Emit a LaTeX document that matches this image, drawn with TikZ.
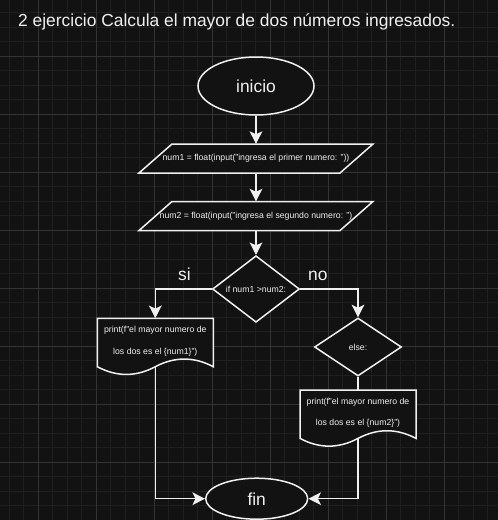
\documentclass[tikz,border=0pt]{standalone}
\usepackage{fontspec}
\setmainfont{Liberation Sans}
\usetikzlibrary{shapes.geometric, arrows.meta}

\definecolor{bgcol}{HTML}{121212}
\definecolor{gridminor}{HTML}{1F1F1F}
\definecolor{gridmajor}{HTML}{333333}
\definecolor{ink}{HTML}{F0F0F0}

\pgfdeclarelayer{background}
\pgfsetlayers{background,main}

\tikzset{
	shape line/.style={draw=ink, fill=bgcol, line width=1.5pt},
	box/.style={shape line, text=ink, inner sep=0pt, font=\fontsize{8.7}{10.4}\selectfont},
	terminal/.style={box, ellipse, font=\fontsize{17.4}{20}\selectfont},
	iotext/.style={text=ink, inner sep=0pt, minimum width=201pt, minimum height=29pt,
		font=\fontsize{8.7}{10.4}\selectfont},
	decision/.style={box, diamond, minimum width=87pt, minimum height=58pt},
	doctext/.style={text=ink, inner sep=0pt, minimum width=116pt, minimum height=45.2pt,
		align=center, font=\fontsize{8.7}{21.7}\selectfont},
	flow/.style={draw=ink, line width=1.5pt, -{Stealth[length=12.5pt, width=12.7pt, inset=3pt]}},
	link/.style={draw=ink, line width=1.5pt},
	tag/.style={text=ink, inner sep=0pt, font=\fontsize{17.4}{20}\selectfont}
}

% parallelogram, centre at (#1,#2)
\newcommand{\ioshape}[2]{%
	\draw[shape line, shift={(#1,#2)}] (-117,14.5) -- (-84,-14.5) -- (117,-14.5) -- (84,14.5) -- cycle;}
% document shape, top left corner at (#1,#2)
\newcommand{\docshape}[2]{%
	\draw[shape line, shift={(#1,#2)}] (0,0) -- (116,0) -- (116,48.4)
		.. controls (96.7,38.2) and (77.3,38.2) .. (58,48.4)
		.. controls (38.7,58.7) and (19.3,58.7) .. (0,48.4) -- cycle;}

\begin{document}
\begin{tikzpicture}[x=1pt, y=-1pt]
	\useasboundingbox (0,0) rectangle (498,520);
	\begin{pgfonlayer}{background}
		\fill[bgcol] (0,0) rectangle (498,520);
		\foreach \k in {0,...,36}
			\draw[gridminor, line width=0.8pt] (-19.7+\k*14.5,0) -- (-19.7+\k*14.5,520)
				(0,-2+\k*14.5) -- (498,-2+\k*14.5);
		\foreach \k in {0,...,9}
			\draw[gridmajor, line width=0.8pt] (-19.7+\k*58,0) -- (-19.7+\k*58,520)
				(0,-2+\k*58) -- (498,-2+\k*58);
	\end{pgfonlayer}

	\node[tag, anchor=base west] (title) at (18,26.7) {2 ejercicio Calcula el mayor de dos números ingresados.};
	\node[terminal, minimum width=116pt, minimum height=58pt] (inicio) at (256,86) {inicio};
	\ioshape{256}{158.5}
	\node[iotext] (read1) at (256,158.5) {num1 = float(input("ingresa el primer numero: "))};
	\ioshape{256}{216}
	\node[iotext] (read2) at (256,216) {num2 = float(input("ingresa el segundo numero: ")};
	\node[decision] (cond) at (256,289) {if num1 >num2:};
	\node[tag, anchor=base] (si) at (184.5,280) {si};
	\node[tag, anchor=base] (no) at (317.8,280) {no};
	\docshape{97.3}{318.3}
	\node[doctext] (out1) at (155.3,340.9) {print(f"el mayor numero de\\los dos es el \{num1\}")};
	\node[decision] (other) at (358,347) {else:};
	\docshape{300}{390}
	\node[doctext] (out2) at (358,412.6) {print(f"el mayor numero de\\los dos es el \{num2\}")};
	\node[terminal, minimum width=102pt, minimum height=41pt] (fin) at (256.7,498.7) {fin};

	\begin{pgfonlayer}{background}
		\draw[flow] (inicio) -- (read1);
		\draw[flow] (read1) -- (read2);
		\draw[flow] (read2) -- (cond);
		\draw[flow] (cond.west) -| (out1.north);
		\draw[flow] (cond.east) -| (other.north);
		\draw[link] (other.south) -- (out2.north);
		\draw[flow] (out1.south) |- (fin.west);
		\draw[flow] (out2.south) |- (fin.east);
	\end{pgfonlayer}
\end{tikzpicture}
\end{document}
